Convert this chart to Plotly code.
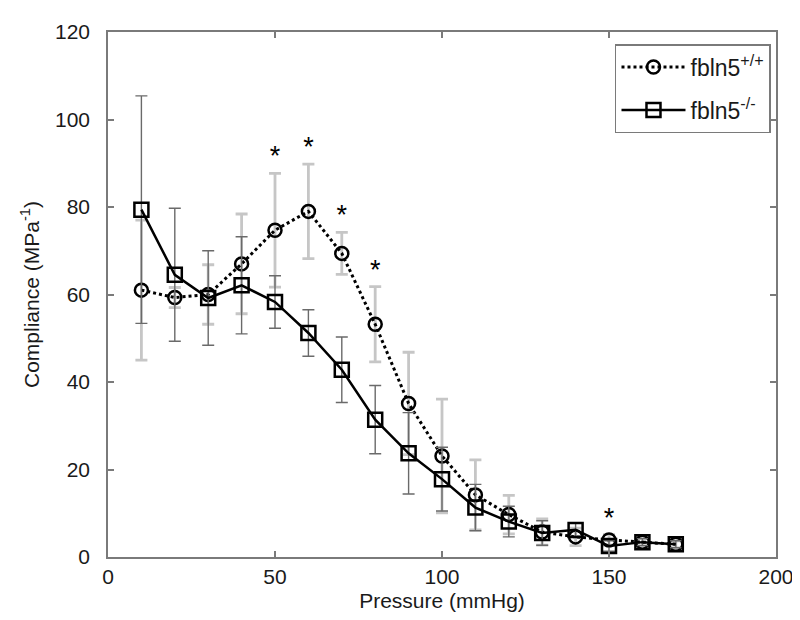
import plotly.graph_objects as go

pressure = [10, 20, 30, 40, 50, 60, 70, 80, 90, 100, 110, 120, 130, 140, 150, 160, 170]
wt_mean = [61.0, 59.3, 60.0, 67.0, 74.7, 79.0, 69.4, 53.2, 35.1, 23.1, 14.2, 9.7, 5.7, 4.6, 3.9, 3.4, 2.9]
wt_err = [16.0, 2.3, 6.8, 11.4, 13.0, 10.8, 4.8, 8.6, 11.7, 13.0, 8.0, 4.4, 3.0, 2.0, 1.2, 0.8, 0.8]
ko_mean = [79.4, 64.5, 59.2, 62.1, 58.3, 51.2, 42.8, 31.4, 23.7, 17.8, 11.3, 8.1, 5.5, 6.2, 2.5, 3.4, 2.9]
ko_err = [26.0, 15.2, 10.8, 11.1, 6.0, 5.3, 7.5, 7.8, 9.3, 7.3, 5.3, 3.5, 2.8, 1.5, 1.2, 0.8, 0.8]
star_pressure = [50, 60, 70, 80, 150]
star_gap = 3.4

x_ticks = [0, 50, 100, 150, 200]
y_ticks = [0, 20, 40, 60, 80, 100, 120]

FONT = "Liberation Sans, Arial, sans-serif"
TXT = "#1a1a1a"

fig = go.Figure()

fig.add_trace(go.Scatter(
    x=pressure, y=wt_mean, name="fbln5<sup>+/+</sup>", legendgroup="wt",
    mode="lines+markers",
    line=dict(color="black", width=3, dash="dot"),
    marker=dict(symbol="circle-open", size=13, color="black", line=dict(width=2.5)),
    error_y=dict(type="data", array=wt_err, visible=True, color="#c6c6c6", thickness=2.8, width=6),
))
fig.add_trace(go.Scatter(
    x=pressure, y=ko_mean, name="fbln5<sup>-/-</sup>", legendgroup="ko",
    mode="lines+markers",
    line=dict(color="black", width=2.5),
    marker=dict(symbol="square-open", size=14, color="black", line=dict(width=2.5)),
    error_y=dict(type="data", array=ko_err, visible=True, color="#6a6a6a", thickness=1.4, width=6),
))

idx = {p: i for i, p in enumerate(pressure)}
star_y = [wt_mean[idx[p]] + wt_err[idx[p]] + star_gap for p in star_pressure]
fig.add_trace(go.Scatter(
    x=star_pressure, y=star_y, mode="text", text=["*"] * len(star_pressure),
    textposition="middle center", showlegend=False,
    textfont=dict(size=27, color="black", family=FONT),
))

axis_common = dict(
    showline=True, linecolor="#7a7a7a", linewidth=1.5, mirror="ticks",
    ticks="inside", ticklen=6, tickcolor="#7a7a7a", tickwidth=1.5,
    showgrid=False, zeroline=False,
    tickfont=dict(size=21, family=FONT, color=TXT),
)

fig.update_xaxes(range=[0, 200], tickvals=x_ticks,
                 title=dict(text="Pressure (mmHg)", font=dict(size=21, family=FONT, color=TXT), standoff=6),
                 **axis_common)
fig.update_yaxes(range=[0, 120], tickvals=y_ticks, ticklabelstandoff=12,
                 title=dict(text="Compliance (MPa<sup>-1</sup>)", font=dict(size=21, family=FONT, color=TXT), standoff=10),
                 **axis_common)

fig.update_layout(
    width=800, height=620,
    margin=dict(l=100, r=32, t=17, b=71),
    plot_bgcolor="white", paper_bgcolor="white",
    font=dict(family=FONT),
    legend=dict(
        x=0.9925, y=0.977, xanchor="right", yanchor="top",
        bordercolor="#7a7a7a", borderwidth=1.5, bgcolor="white",
        font=dict(size=23, family=FONT, color=TXT),
        itemwidth=64, tracegroupgap=10,
    ),
    showlegend=True,
)

fig.write_html("out.html")
